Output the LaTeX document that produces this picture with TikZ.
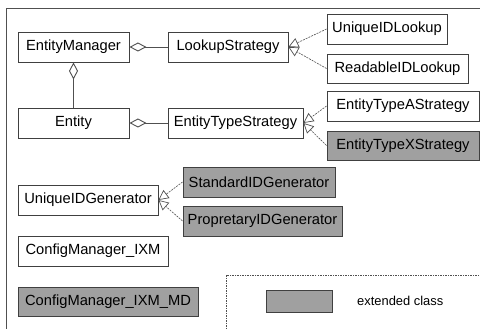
\documentclass[tikz,border=0pt]{standalone}
\usepackage{fontspec}
\setmainfont{Liberation Sans}
\usetikzlibrary{arrows.meta}
\definecolor{linec}{HTML}{505050}
\definecolor{boxc}{HTML}{404040}
\definecolor{extc}{HTML}{A0A0A0}
\tikzset{
  cls/.style={draw=boxc, line width=0.9pt, fill=white, inner sep=0pt, font=\fontsize{14.7}{16}\selectfont},
  ext/.style={cls, fill=extc},
  agg/.style={draw=linec, line width=0.9pt, {Diamond[open, length=17pt, width=9pt, fill=white]}-},
  inh/.style={draw=linec, line width=0.6pt, dash pattern=on 2pt off 1pt, -{Triangle[open, length=10pt, width=10pt, fill=white, line width=0.7pt]}},
}
\begin{document}
\begin{tikzpicture}[x=1pt, y=-1pt]
\useasboundingbox (0,0) rectangle (480,329);
\fill[white] (0,0) rectangle (480,329);
\draw[draw=linec, line width=0.9pt] (6,8) rectangle (500,350);
\draw[draw=linec, line width=0.6pt, dash pattern=on 1.5pt off 1pt] (226,275) rectangle (500,350);

\node[cls, minimum width=111pt, minimum height=30pt] (em) at (73.5,47) {EntityManager};
\node[cls, minimum width=120pt, minimum height=30pt] (ls) at (228,47) {LookupStrategy};
\node[cls, minimum width=111pt, minimum height=30pt] (en) at (73.5,123) {Entity};
\node[cls, minimum width=135pt, minimum height=30pt] (ets) at (235.5,123) {EntityTypeStrategy};
\node[cls, minimum width=120pt, minimum height=30pt] (uil) at (387,29) {UniqueIDLookup};
\node[cls, minimum width=141pt, minimum height=29pt] (ril) at (397.5,68.5) {ReadableIDLookup};
\node[cls, minimum width=152pt, minimum height=30pt] (eta) at (403,106) {EntityTypeAStrategy};
\node[ext, minimum width=152pt, minimum height=29pt] (etx) at (403,145.5) {EntityTypeXStrategy};
\node[cls, minimum width=140pt, minimum height=30pt] (uig) at (88,200) {UniqueIDGenerator};
\node[ext, minimum width=152pt, minimum height=30pt] (sig) at (259,182) {StandardIDGenerator};
\node[ext, minimum width=159pt, minimum height=30pt] (pig) at (262.5,221) {PropretaryIDGenerator};
\node[cls, minimum width=150pt, minimum height=30pt] (cm) at (93,251) {ConfigManager\_IXM};
\node[ext, minimum width=180pt, minimum height=29pt] (cmd) at (108,301.5) {ConfigManager\_IXM\_MD};
\node[ext, minimum width=66pt, minimum height=22pt] (leg) at (299,301) {};
\node[anchor=west, inner sep=0pt, font=\fontsize{12.9}{15}\selectfont] (legt) at (357,301) {extended class};

\draw[agg] (em.east) -- (ls.west);
\draw[agg] (em.south) -- (en.north);
\draw[agg] (en.east) -- (ets.west);
\draw[inh] (uil.west) -- (ls.east);
\draw[inh] (ril.west) -- (ls.east);
\draw[inh] (eta.west) -- (ets.east);
\draw[inh] (etx.west) -- (ets.east);
\draw[inh] (sig.west) -- (uig.east);
\draw[inh] (pig.west) -- (uig.east);
\end{tikzpicture}
\end{document}
